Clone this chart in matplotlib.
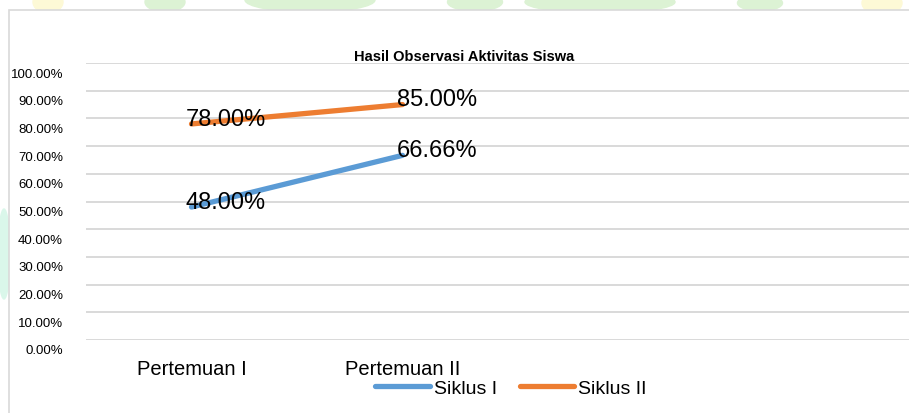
import matplotlib
matplotlib.use("Agg")
import matplotlib.pyplot as plt
from matplotlib import font_manager
from matplotlib.patches import Rectangle, Ellipse
from matplotlib.transforms import ScaledTranslation

# data
categories = ["Pertemuan I", "Pertemuan II"]
siklus_1 = [0.48, 0.6666]
siklus_2 = [0.78, 0.85]
series_names = ["Siklus I", "Siklus II"]
y_ticks = [i / 10 for i in range(11)]

W, H = 909, 414
installed = {f.name for f in font_manager.fontManager.ttflist}
base = "Liberation Sans" if "Liberation Sans" in installed else "DejaVu Sans"
plt.rcParams["font.family"] = base

fig = plt.figure(figsize=(W / 100, H / 100), dpi=100)


def fx(px):
    return px / W


def fy(py):
    return 1 - py / H


# faded watermark behind the chart box
wm = [((165, 3), 40, 20, "#dcf2d4"), ((310, 1), 130, 24, "#dcf2d4"),
      ((475, 3), 55, 18, "#dcf2d4"), ((600, 3), 150, 22, "#dcf2d4"),
      ((760, 4), 45, 16, "#dcf2d4"), ((48, 3), 30, 22, "#fdf9d6"),
      ((882, 4), 40, 24, "#fdf9d6"), ((4, 255), 12, 90, "#daf7ea")]
for (cx, cy), w, h, c in wm:
    fig.add_artist(Ellipse((fx(cx), fy(cy)), fx(w), h / H, color=c,
                           zorder=-5, transform=fig.transFigure))
fig.add_artist(Rectangle((fx(8.5), fy(H + 20)), 1.2, fy(10.5) - fy(H + 20),
                         facecolor="white", edgecolor="#d9d9d9", lw=1.2,
                         zorder=-4, transform=fig.transFigure))

ax = fig.add_axes([fx(86), fy(341), fx(930 - 86), (341 - 64) / H])
ax.set_facecolor("none")

x = list(range(len(categories)))
colors = ["#5B9BD5", "#ED7D31"]
for vals, name, c in zip([siklus_1, siklus_2], series_names, colors):
    ax.plot(x, vals, color=c, lw=3.8, solid_capstyle="round", label=name, zorder=3)
    for xi, v in zip(x, vals):
        ax.annotate(f"{v * 100:.2f}%", (xi, v), xytext=(-4, -0.5),
                    textcoords="offset points", ha="left", va="baseline",
                    fontsize=17, color="black", zorder=4)

ax.set_xlim(-0.5, 3.5)
ax.set_ylim(0, 1)
ax.set_yticks(y_ticks)
ax.set_yticklabels([f"{t * 100:.2f}%" for t in y_ticks], fontsize=9.5)
ax.set_xticks(x)
ax.set_xticklabels(categories, fontsize=14.5)
ax.tick_params(axis="y", length=0, pad=16.5)
ax.tick_params(axis="x", length=0, pad=14)
for lab in ax.get_yticklabels():
    lab.set_transform(lab.get_transform() + ScaledTranslation(0, -9 / 100, fig.dpi_scale_trans))
ax.grid(axis="y", color="#d9d9d9", lw=1.4)
ax.set_axisbelow(True)
for s in ax.spines.values():
    s.set_visible(False)

fig.text(fx(464), fy(57), "Hasil Observasi Aktivitas Siswa", ha="center",
         va="center", fontsize=10.5, fontweight="bold")

fig.legend(loc="center", bbox_to_anchor=(fx(511), fy(389)), ncol=2,
           frameon=False, fontsize=14, handlelength=2.8, handletextpad=0.2,
           columnspacing=1.2, borderpad=0.2)

fig.savefig("out.png", dpi=100)
